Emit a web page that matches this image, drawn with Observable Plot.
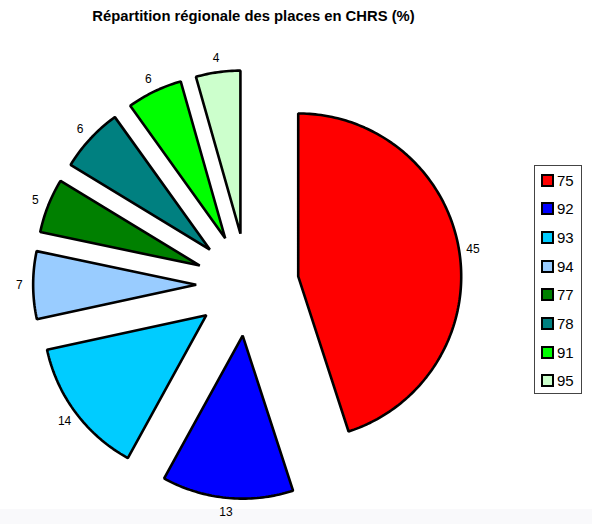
<!DOCTYPE html>
<html>
<head>
<meta charset="utf-8">
<script src="https://cdn.jsdelivr.net/npm/d3@7"></script>
<script src="https://cdn.jsdelivr.net/npm/@observablehq/plot@0.6"></script>
<style>
  html, body { margin: 0; padding: 0; background: #fff; }
  body { width: 592px; height: 524px; position: relative; overflow: hidden; font-family: "Liberation Sans", Arial, sans-serif; }
  #title { position: absolute; left: 0; top: 8px; width: 507px; text-align: center; font-weight: bold; font-size: 14.8px; color: #000; }
  #chart { position: absolute; left: 0; top: 34px; }
  #strip { position: absolute; left: 0; top: 509px; width: 592px; height: 15px; background: #f9f9fb; }
  #legend { position: absolute; left: 534px; top: 165px; width: 48px; height: 229px; border: 1px solid #444; background: #fff; box-sizing: border-box; }
  .row { position: absolute; left: 6px; height: 18px; display: flex; align-items: center; font-size: 15px; }
  .sw { width: 9px; height: 9px; border: 2px solid #000; margin-right: 3px; }
</style>
</head>
<body>
<div id="strip"></div>
<div id="title">Répartition régionale des places en CHRS (%)</div>
<div id="chart"></div>
<div id="legend"></div>
<script>
const categories = ["75", "92", "93", "94", "77", "78", "91", "95"];
// shares (%); labels show them rounded
const values = [45.0, 13.0, 13.6, 6.7, 5.4, 6.4, 5.5, 4.4];
const colors = ["#ff0000", "#0000ff", "#00ccff", "#99ccff", "#008000", "#008080", "#00ff00", "#ccffcc"];

const W = 592, H = 475;
const R = 163;            // pixel radius
const cxPx = 247, cyPx = 250;
const explode = 0.315;    // in radius units
const labelR = 1.085;

const pie = d3.pie().sort(null).value((d, i) => values[i]);
const arcs = pie(categories);

const poly = [];
const labels = [];
arcs.forEach((a, i) => {
  const mid = (a.startAngle + a.endAngle) / 2;
  const ox = explode * Math.sin(mid), oy = explode * Math.cos(mid);
  const cat = categories[i];
  poly.push({cat, x: ox, y: oy});
  const n = Math.max(2, Math.ceil((a.endAngle - a.startAngle) / (Math.PI / 180)));
  for (let k = 0; k <= n; k++) {
    const t = a.startAngle + (a.endAngle - a.startAngle) * k / n;
    poly.push({cat, x: ox + Math.sin(t), y: oy + Math.cos(t)});
  }
  labels.push({cat, value: values[i], x: ox + labelR * Math.sin(mid), y: oy + labelR * Math.cos(mid)});
});

const chart = Plot.plot({
  width: W,
  height: H,
  margin: 0,
  x: {domain: [-cxPx / R, (W - cxPx) / R], axis: null},
  y: {domain: [-(H - cyPx) / R, cyPx / R], axis: null},
  color: {domain: categories, range: colors},
  marks: [
    Plot.line(poly, {x: "x", y: "y", z: "cat", fill: "cat", stroke: "#000", strokeWidth: 2.6, strokeLinejoin: "miter", curve: "linear-closed"}),
    Plot.text(labels, {x: "x", y: "y", text: d => Math.round(d.value).toString(), fontSize: 12, fill: "#000", fontFamily: "Liberation Sans, Arial, sans-serif"})
  ],
  style: {background: "transparent", overflow: "visible"}
});
document.getElementById("chart").appendChild(chart);

const leg = document.getElementById("legend");
categories.forEach((c, i) => {
  const row = document.createElement("div");
  row.className = "row";
  row.style.top = (5 + i * 28.7) + "px";
  const sw = document.createElement("div");
  sw.className = "sw";
  sw.style.background = colors[i];
  const tx = document.createElement("span");
  tx.textContent = c;
  row.appendChild(sw);
  row.appendChild(tx);
  leg.appendChild(row);
});
</script>
</body>
</html>
